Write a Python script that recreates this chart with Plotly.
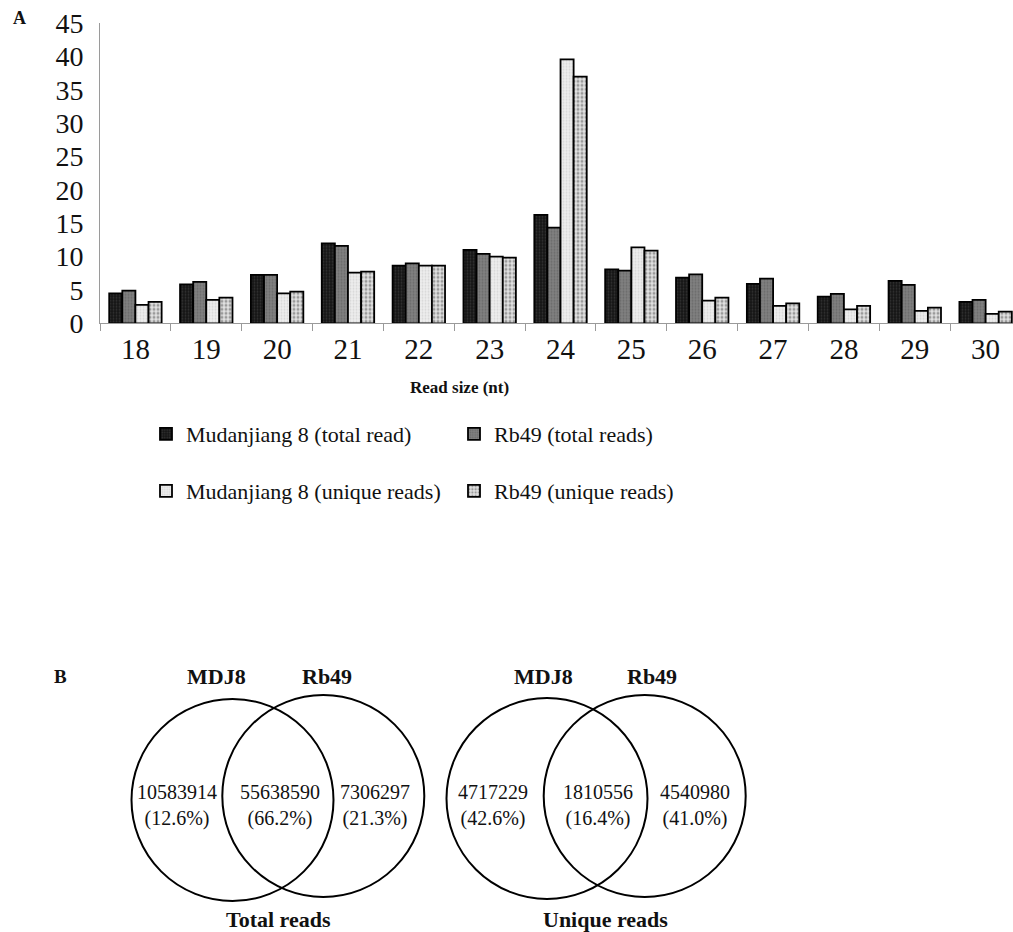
import plotly.graph_objects as go

# ---------------- Data ----------------
read_sizes = ["18", "19", "20", "21", "22", "23", "24", "25", "26", "27", "28", "29", "30"]
mdj8_total = [4.5, 5.85, 7.25, 12.0, 8.65, 11.0, 16.25, 8.1, 6.85, 5.9, 4.0, 6.35, 3.2]
rb49_total = [4.9, 6.2, 7.25, 11.6, 9.0, 10.4, 14.35, 7.9, 7.35, 6.7, 4.4, 5.75, 3.5]
mdj8_unique = [2.75, 3.5, 4.5, 7.6, 8.65, 10.0, 39.6, 11.4, 3.4, 2.6, 2.1, 1.85, 1.4]
rb49_unique = [3.2, 3.85, 4.75, 7.75, 8.65, 9.85, 37.0, 10.9, 3.85, 3.0, 2.6, 2.35, 1.75]
series_names = ["Mudanjiang 8 (total read)", "Rb49 (total reads)",
                "Mudanjiang 8 (unique reads)", "Rb49 (unique reads)"]
y_ticks = [0, 5, 10, 15, 20, 25, 30, 35, 40, 45]

venn_titles = ["Total reads", "Unique reads"]
venn_set_labels = ["MDJ8", "Rb49"]
venn_total_counts = ["10583914", "55638590", "7306297"]
venn_total_pct = ["(12.6%)", "(66.2%)", "(21.3%)"]
venn_unique_counts = ["4717229", "1810556", "4540980"]
venn_unique_pct = ["(42.6%)", "(16.4%)", "(41.0%)"]

# ---------------- Layout constants ----------------
W, H = 1013, 932
FONT = "Liberation Serif, Times New Roman, serif"
px_x0, px_cat = 100, 70.85        # axis left px, category width px
plot_top, plot_bot = 23.3, 323.3

def px(x):
    return x / W

def py(y):
    return 1 - y / H

styles = [
    dict(color="#1c1c1c", pattern=dict(shape=".", fgcolor="#333333", bgcolor="#151515", size=3, solidity=0.3)),
    dict(color="#7a7a7a", pattern=dict(shape=".", fgcolor="#6a6a6a", bgcolor="#808080", size=3, solidity=0.3)),
    dict(color="#ebebeb", pattern=dict(shape=".", fgcolor="#d6d6d6", bgcolor="#eeeeee", size=3, solidity=0.3)),
    dict(color="#c8c8c8", pattern=dict(shape=".", fgcolor="#9a9a9a", bgcolor="#e2e2e2", size=4, solidity=0.45)),
]
values = [mdj8_total, rb49_total, mdj8_unique, rb49_unique]
legend_ids = ["legend", "legend", "legend2", "legend2"]

fig = go.Figure()
for name, vals, st, lg in zip(series_names, values, styles, legend_ids):
    fig.add_trace(go.Bar(
        x=read_sizes, y=vals, name=name, legend=lg,
        marker=dict(color=st["color"], pattern=st["pattern"],
                    line=dict(color="#000000", width=1.8)),
        hoverinfo="x+y+name",
    ))

x_range_end = -0.5 + (W - px_x0) / px_cat

fig.update_layout(
    template="none",
    width=W, height=H,
    margin=dict(l=0, r=0, t=0, b=0, autoexpand=False),
    paper_bgcolor="white", plot_bgcolor="white",
    font=dict(family=FONT, color="#111111"),
    barmode="group", bargap=0.26, bargroupgap=0,
    xaxis=dict(
        domain=[px_x0 / W, 1], range=[-0.5, x_range_end], type="category",
        automargin=False,
        showline=True, linecolor="#9a9a9a", linewidth=1,
        ticks="outside", tickson="boundaries", ticklen=7, tickcolor="#9a9a9a",
        tickfont=dict(size=29, family=FONT, color="#111111"),
        showgrid=False, zeroline=False,
    ),
    yaxis=dict(
        domain=[1 - plot_bot / H, 1 - plot_top / H], range=[0, 45],
        automargin=False,
        tickvals=y_ticks, showline=True, linecolor="#9a9a9a", linewidth=1,
        ticks="outside", ticklen=10, tickcolor="rgba(0,0,0,0)",
        tickfont=dict(size=28, family=FONT, color="#111111"),
        showgrid=False, zeroline=False,
    ),
    legend=dict(orientation="h", x=px(146), xanchor="left", y=py(434), yanchor="middle",
                font=dict(size=22, family=FONT, color="#111111"), entrywidth=263,
                bgcolor="rgba(0,0,0,0)", itemclick=False, traceorder="normal"),
    legend2=dict(orientation="h", x=px(146), xanchor="left", y=py(491), yanchor="middle",
                 font=dict(size=22, family=FONT, color="#111111"), entrywidth=263,
                 bgcolor="rgba(0,0,0,0)", itemclick=False, traceorder="normal"),
    showlegend=True,
)

annotations = []
def ann(x, y, text, size, bold=False):
    annotations.append(dict(
        x=px(x), y=py(y), xref="paper", yref="paper",
        text=f"<b>{text}</b>" if bold else text,
        showarrow=False, xanchor="center", yanchor="middle",
        font=dict(size=size, family=FONT, color="#111111")))

ann(19, 18, "A", 18, bold=True)
ann(459.7, 387, "Read size (nt)", 17, bold=True)
ann(60.8, 676, "B", 19, bold=True)

# Venn diagrams
venns = [
    dict(circles=[(232.5, 800, 101), (323.3, 796, 101)],
         label_x=[216.7, 326.7], title_x=278.3,
         text_x=[177.3, 280, 375], counts=venn_total_counts, pcts=venn_total_pct,
         title=venn_titles[0]),
    dict(circles=[(547, 798.5, 100.5), (644.7, 796, 101)],
         label_x=[543, 651.7], title_x=605,
         text_x=[493, 598.3, 695], counts=venn_unique_counts, pcts=venn_unique_pct,
         title=venn_titles[1]),
]
shapes = []
for v in venns:
    for (cx, cy, r) in v["circles"]:
        shapes.append(dict(type="circle", xref="paper", yref="paper",
                           x0=px(cx - r), x1=px(cx + r), y0=py(cy + r), y1=py(cy - r),
                           line=dict(color="#000000", width=2), fillcolor="rgba(0,0,0,0)"))
    for lx, lab in zip(v["label_x"], venn_set_labels):
        ann(lx, 676.7, lab, 22, bold=True)
    ann(v["title_x"], 919, v["title"], 22, bold=True)
    for tx, c, p in zip(v["text_x"], v["counts"], v["pcts"]):
        ann(tx, 805, f"{c}<br>{p}", 20)

fig.update_layout(annotations=annotations, shapes=shapes)
fig.write_html("out.html")
